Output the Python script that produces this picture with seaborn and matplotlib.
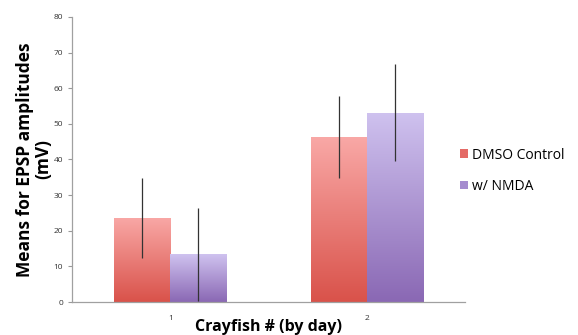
import numpy as np
import pandas as pd
import seaborn as sns
import matplotlib.pyplot as plt
from matplotlib.colors import LinearSegmentedColormap
from matplotlib.patches import Patch

days = ["1", "2"]
groups = ["DMSO Control", "w/ NMDA"]
dmso_means = [23.6, 46.3]
nmda_means = [13.4, 53.1]
dmso_err = [11.3, 11.6]
nmda_err = [13.1, 13.6]

df = pd.DataFrame({
    "day": days * 2,
    "group": [groups[0]] * 2 + [groups[1]] * 2,
    "mean": dmso_means + nmda_means,
    "err": dmso_err + nmda_err,
})

sns.set_theme(style="white")
plt.rcParams["font.family"] = ["Open Sans", "DejaVu Sans"]
plt.rcParams["text.color"] = "black"
plt.rcParams["axes.labelcolor"] = "black"

fig = plt.figure(figsize=(5.78, 3.35), dpi=100)
ax = fig.add_axes([0.1246, 0.0985, 0.68, 0.851])

pal = {"DMSO Control": "#e46a66", "w/ NMDA": "#a58ccf"}
sns.barplot(data=df, x="day", y="mean", hue="group", palette=pal,
            errorbar=None, width=0.57, ax=ax, legend=False, linewidth=0)

# vertical gradient fill per bar, like the original spreadsheet chart
grads = {
    "DMSO Control": LinearSegmentedColormap.from_list("r", ["#d9524a", "#f9a8a6"]),
    "w/ NMDA": LinearSegmentedColormap.from_list("p", ["#8a68b4", "#cfc2ef"]),
}
ramp = np.linspace(0, 1, 256).reshape(-1, 1)

bars = ax.patches[:4]
order = [groups[0]] * 2 + [groups[1]] * 2
errs = dmso_err + nmda_err
for p, g, e in zip(bars, order, errs):
    x0, w, h = p.get_x(), p.get_width(), p.get_height()
    p.set_facecolor("none")
    im = ax.imshow(ramp, cmap=grads[g], origin="lower", aspect="auto",
                   extent=[x0, x0 + w, 0, h], zorder=1)
    im.set_clip_path(p)
    ax.vlines(x0 + w / 2, h - e, h + e, color="#333333", lw=0.9, zorder=3)

ax.set_xlim(-0.5, 1.5)
ax.set_ylim(0, 80)
ax.set_yticks(range(0, 81, 10))
ax.set_xticks([0.5], minor=True)
ax.tick_params(axis="x", which="major", length=0, labelsize=6, pad=9, colors="#333333")
ax.tick_params(axis="x", which="minor", length=3, width=0.8, color="#999999", direction="in")
ax.tick_params(axis="y", length=3, width=0.8, color="#999999", labelsize=6, colors="#333333", left=True)
for s in ["top", "right"]:
    ax.spines[s].set_visible(False)
for s in ["left", "bottom"]:
    ax.spines[s].set_color("#a0a0a0")
    ax.spines[s].set_linewidth(0.9)

ax.set_xlabel("Crayfish # (by day)", fontsize=11.5, fontweight="bold", labelpad=-2)
ax.set_ylabel("Means for EPSP amplitudes\n(mV)", fontsize=12.5, fontweight="bold",
              linespacing=1.0)
ax.yaxis.set_label_coords(-0.05, 0.5)

handles = [Patch(facecolor=pal[g], edgecolor="none") for g in groups]
fig.legend(handles, groups, loc="center left", bbox_to_anchor=(0.775, 0.49),
           frameon=False, fontsize=10, handlelength=0.55, handleheight=0.55,
           handletextpad=0.3, labelspacing=1.2)

fig.savefig("out.png", dpi=100)
